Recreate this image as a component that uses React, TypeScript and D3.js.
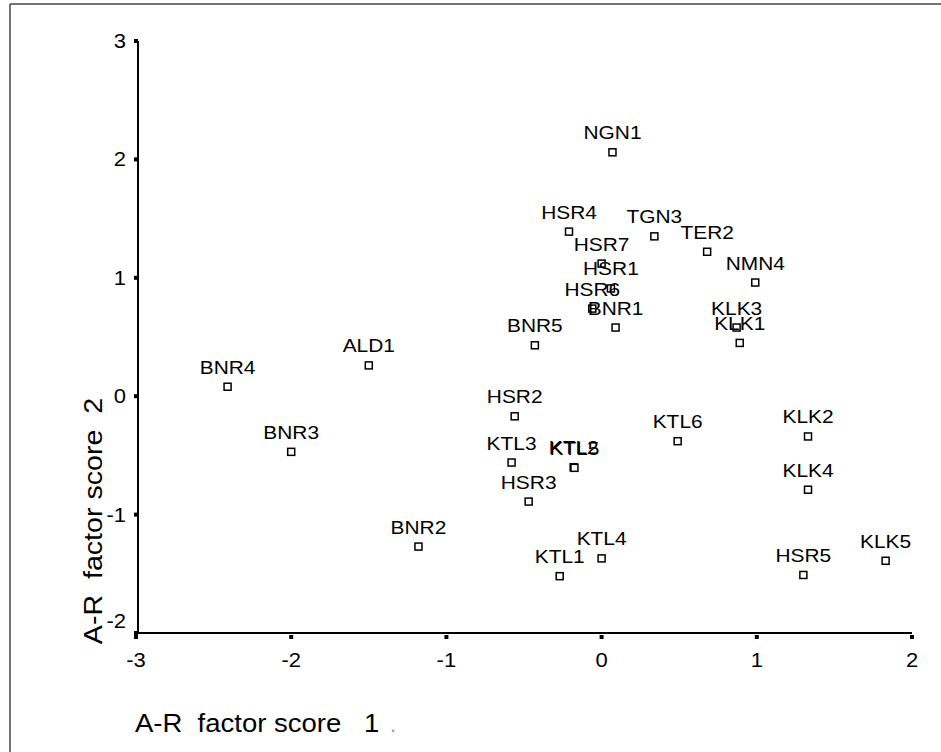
import React from "react";
import * as d3 from "d3";

const labels = ["NGN1","HSR4","TGN3","TER2","HSR7","NMN4","HSR1","HSR6","BNR1","KLK3","KLK1","BNR5","ALD1","BNR4","HSR2","KLK2","KTL6","KTL3","KTL2","KTL5","BNR3","KLK4","HSR3","BNR2","KTL4","KLK5","HSR5","KTL1"];
const score1 = [0.07,-0.21,0.34,0.68,0.0,0.99,0.06,-0.06,0.09,0.87,0.89,-0.43,-1.5,-2.41,-0.56,1.33,0.49,-0.58,-0.18,-0.175,-2.0,1.33,-0.47,-1.18,0.0,1.83,1.3,-0.27];
const score2 = [2.06,1.39,1.35,1.22,1.12,0.96,0.91,0.74,0.58,0.58,0.45,0.43,0.26,0.08,-0.17,-0.34,-0.38,-0.56,-0.6,-0.605,-0.47,-0.79,-0.89,-1.27,-1.37,-1.39,-1.51,-1.52];
const xTicks = [-3,-2,-1,0,1,2];
const yTicks = [-2,-1,0,1,2,3];
const xTitle = "A-R  factor score   1";
const yTitle = "A-R  factor score  2";

const W = 941, H = 752;
const FONT = "'Liberation Sans', Arial, Helvetica, sans-serif";
const SX = 1.1;

export default function App() {
  const x = d3.scaleLinear().domain([-3, 2]).range([136, 912]);
  const y = d3.scaleLinear().domain([-2, 3]).range([633, 41]);
  const pts = labels.map((l, i) => ({ l, a: score1[i], b: score2[i] }));
  return (
    <svg width={W} height={H} style={{ position: "absolute", left: 0, top: 0, background: "#fff" }} fontFamily={FONT}>
      <rect x={0} y={0} width={W} height={H} fill="#fff" />
      <line x1={10} y1={4} x2={W} y2={4} stroke="#444" strokeWidth={1.5} />
      <line x1={10} y1={4} x2={10} y2={H} stroke="#444" strokeWidth={1.5} />
      <line x1={x(-3)} y1={y(-2)} x2={x(2)} y2={y(-2)} stroke="#000" strokeWidth={2} />
      <line x1={x(-3) + 2} y1={y(3)} x2={x(-3) + 2} y2={y(-2)} stroke="#000" strokeWidth={2} />
      {xTicks.map((t) => (
        <g key={"xt" + t}>
          <rect x={x(t) - 2} y={y(-2) + 2} width={4} height={4} fill="#000" />
          <text transform={`translate(${x(t)},${667}) scale(${SX},1)`} textAnchor="middle" fontSize={20} fill="#000">{t}</text>
        </g>
      ))}
      {yTicks.map((t) => (
        <g key={"yt" + t}>
          <rect x={x(-3) - 2} y={y(t) - 2} width={4} height={4} fill="#000" />
          <text transform={`translate(${126},${y(t) + 7 - (t === -2 ? 12 : 0)}) scale(${SX},1)`} textAnchor="end" fontSize={20} fill="#000">{t}</text>
        </g>
      ))}
      {pts.map((p) => (
        <g key={p.l}>
          <rect x={x(p.a) - 3.5} y={y(p.b) - 3.5} width={7} height={7} fill="#fff" stroke="#000" strokeWidth={1.5} />
          <text transform={`translate(${x(p.a)},${y(p.b) - 13}) scale(${SX},1)`} textAnchor="middle" fontSize={19} fill="#000">{p.l}</text>
        </g>
      ))}
      <text transform={`translate(135,732) scale(${SX},1)`} fontSize={25} fill="#000" style={{ whiteSpace: "pre" }}>{xTitle}</text>
      <text x={390} y={732} fontSize={22} fill="#999">.</text>
      <text transform={`translate(102,521) rotate(-90) scale(${SX},1)`} textAnchor="middle" fontSize={26} fill="#000" style={{ whiteSpace: "pre" }}>{yTitle}</text>
    </svg>
  );
}
